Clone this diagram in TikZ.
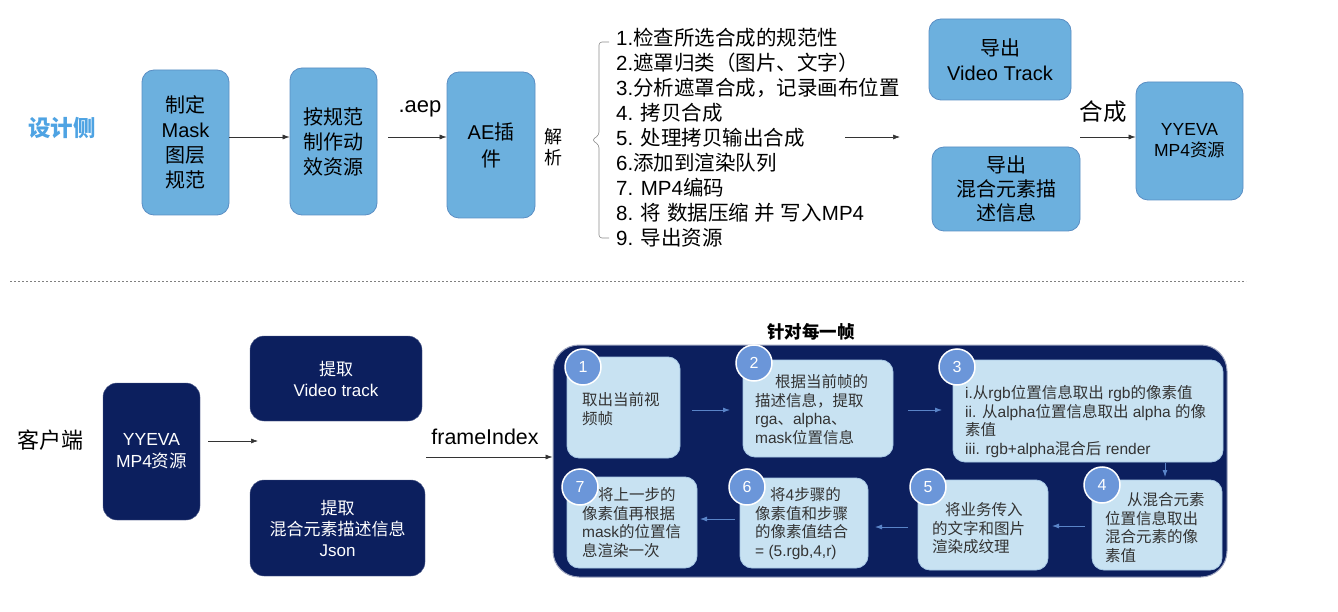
\documentclass[tikz,border=0pt]{standalone}
\usepackage{fontspec}
\setmainfont{Liberation Sans}
\newfontfamily\cjkf{Noto Sans CJK SC}
\XeTeXinterchartokenstate=1
\newXeTeXintercharclass\CJKcls
\newcount\mycjkcnt
\mycjkcnt="3000 \loop\XeTeXcharclass\mycjkcnt=\CJKcls \advance\mycjkcnt by 1 \ifnum\mycjkcnt<"3040 \repeat
\mycjkcnt="4E00 \loop\XeTeXcharclass\mycjkcnt=\CJKcls \advance\mycjkcnt by 1 \ifnum\mycjkcnt<"A000 \repeat
\mycjkcnt="FF00 \loop\XeTeXcharclass\mycjkcnt=\CJKcls \advance\mycjkcnt by 1 \ifnum\mycjkcnt<"FFF0 \repeat
\XeTeXinterchartoks 0 \CJKcls = {\begingroup\cjkf}
\XeTeXinterchartoks 4095 \CJKcls = {\begingroup\cjkf}
\XeTeXinterchartoks \CJKcls 0 = {\endgroup}
\XeTeXinterchartoks \CJKcls 4095 = {\endgroup}
\usetikzlibrary{arrows.meta}
\definecolor{lblue}{HTML}{6CB0DE}
\definecolor{lbord}{HTML}{5A8EC4}
\definecolor{navy}{HTML}{0C1F5E}
\definecolor{sblue}{HTML}{C8E2F2}
\definecolor{sbord}{HTML}{A8C8E4}
\definecolor{cblue}{HTML}{6B96D9}
\definecolor{ablue}{HTML}{5A84C8}
\definecolor{titleblue}{HTML}{4EA3E3}
\definecolor{stxt}{HTML}{333333}
\tikzset{
  topbox/.style={draw=lbord, fill=lblue, rounded corners=12pt, line width=0.8pt, align=center, font=\fontsize{20}{25}\selectfont, text=black, inner sep=0pt},
  navybox/.style={draw=navy!70, fill=navy, rounded corners=14pt, align=center, font=\fontsize{17}{21}\selectfont, text=white, inner sep=0pt},
  stepbox/.style={draw=sbord, fill=sblue, rounded corners=12pt, line width=0.8pt, inner sep=0pt},
  steptext/.style={anchor=north west, align=left, font=\fontsize{15.5}{18.5}\selectfont, text=stxt, inner sep=0pt},
  num/.style={circle, fill=cblue, draw=white, line width=1.5pt, minimum size=36pt, inner sep=0pt, text=white, font=\fontsize{16}{16}\selectfont},
  blk/.style={-{Latex[length=7pt,width=5pt]}, line width=0.6pt, draw=black!80},
  bar/.style={-{Latex[length=7pt,width=5pt]}, line width=0.8pt, draw=ablue, color=ablue},
}
\begin{document}
\begin{tikzpicture}[x=1pt,y=-1pt]
\useasboundingbox[fill=white] (0,0) rectangle (1338,612);

% ---------- top: design side ----------
\node[font=\bfseries\fontsize{22.5}{22.5}\selectfont, text=titleblue] (design) at (62,128) {设计侧};
\node[topbox, minimum width=87pt, minimum height=145pt] (b1) at (185.5,142.5) {制定\\Mask\\图层\\规范};
\node[topbox, minimum width=87pt, minimum height=147pt] (b2) at (333.5,141.5) {按规范\\制作动\\效资源};
\node[topbox, minimum width=88pt, minimum height=146pt, font=\fontsize{20}{27}\selectfont] (b3) at (491,145) {AE插\\件};
\draw[blk] (b1.east |- 0,137) -- (b2.west |- 0,137);
\coordinate (a2s) at (388,137);
\node[font=\fontsize{22}{22}\selectfont] (aep) at (420,109) {.aep};
\draw[blk] (a2s) -- (b3.west |- 0,137);
\node[font=\fontsize{18}{21}\selectfont, align=center] (jx) at (553,147) {解\\析};

% bracket
\coordinate (brt) at (609,42);
\coordinate (brb) at (609,238);
\draw[black!45, line width=0.6pt, rounded corners=3pt] (brt) -- (599,42) -- (599,135) -- (592,140) -- (599,145) -- (599,238) -- (brb);

\node[anchor=north west, align=left, font=\fontsize{20.5}{25}\selectfont, inner sep=0pt] (list) at (616,27.5) {%
1.检查所选合成的规范性\\
2.遮罩归类（图片、文字）\\
3.分析遮罩合成，记录画布位置\\
4. 拷贝合成\\
5. 处理拷贝输出合成\\
6.添加到渲染队列\\
7. MP4编码\\
8. 将 数据压缩 并 写入MP4\\
9. 导出资源};

\coordinate (a3s) at (845,137);
\coordinate (a3e) at (900,137);
\draw[blk] (a3s) -- (a3e);

\node[topbox, minimum width=142pt, minimum height=81pt] (vt) at (1000,59.5) {导出\\Video Track};
\node[topbox, minimum width=148pt, minimum height=84pt, font=\fontsize{20}{24}\selectfont] (mix) at (1006,189) {导出\\混合元素描\\述信息};
\node[font=\fontsize{23.5}{23.5}\selectfont] (hc) at (1103,112) {合成};
\coordinate (a4s) at (1080,137);
\node[topbox, minimum width=107pt, minimum height=118pt, font=\fontsize{17.5}{21}\selectfont] (yy) at (1189.5,141) {YYEVA\\MP4资源};
\draw[blk] (a4s) -- (yy.west |- 0,137);

% dashed separator
\coordinate (dl) at (10,281);
\coordinate (dr) at (1246,281);
\draw[black!50, dash pattern=on 2pt off 2pt, line width=0.8pt] (dl) -- (dr);

% ---------- bottom: client side ----------
\node[font=\fontsize{22}{22}\selectfont] (client) at (50,440) {客户端};
\node[navybox, minimum width=97pt, minimum height=137pt, font=\fontsize{17.5}{22}\selectfont] (cy) at (151.5,451.5) {YYEVA\\MP4资源};
\coordinate (a5s) at (208,441);
\coordinate (a5e) at (258,441);
\draw[blk] (a5s) -- (a5e);
\node[navybox, minimum width=172pt, minimum height=85pt] (ev) at (336,378.5) {提取\\Video track};
\node[navybox, minimum width=175pt, minimum height=96pt] (ej) at (337.5,528) {提取\\混合元素描述信息\\Json};
\node[font=\fontsize{21.4}{21.4}\selectfont] (fi) at (485,437) {frameIndex};
\coordinate (a6s) at (426,457);

% big panel
\node[draw=navy!40!white, fill=navy, rounded corners=26pt, line width=1pt, minimum width=674pt, minimum height=232pt, inner sep=0pt] (panel) at (890,461) {};
\draw[blk] (a6s) -- (panel.west |- 0,457);
\node[font=\bfseries\fontsize{17.5}{17.5}\selectfont] (title) at (811,332) {针对每一帧};

% steps
\node[stepbox, minimum width=113pt, minimum height=101pt] (s1) at (623.5,407.5) {};
\node[stepbox, minimum width=150pt, minimum height=97pt] (s2) at (818,408.5) {};
\node[stepbox, minimum width=270pt, minimum height=102pt] (s3) at (1088,411) {};
\node[stepbox, minimum width=130pt, minimum height=90pt] (s4) at (1157,525) {};
\node[stepbox, minimum width=130pt, minimum height=90pt] (s5) at (983,525) {};
\node[stepbox, minimum width=128pt, minimum height=90pt] (s6) at (804,523) {};
\node[stepbox, minimum width=130pt, minimum height=91pt] (s7) at (632,522.5) {};

\node[steptext] (t1) at (582,392.5) {取出当前视\\频帧};
\node[steptext] (t2) at (755,374.5) {\hspace{20pt}根据当前帧的\\描述信息，提取\\rga、alpha、\\mask位置信息};
\node[steptext] (t3) at (965,385.5) {i.从rgb位置信息取出 rgb的像素值\\ii. 从alpha位置信息取出 alpha 的像\\素值\\iii. rgb+alpha混合后 render};
\node[steptext] (t4) at (1105,492.5) {\hspace{22pt}从混合元素\\位置信息取出\\混合元素的像\\素值};
\node[steptext] (t5) at (932,502.5) {\hspace{13pt}将业务传入\\的文字和图片\\渲染成纹理};
\node[steptext] (t6) at (755,487.5) {\hspace{15pt}将4步骤的\\像素值和步骤\\的像素值结合\\= (5.rgb,4,r)};
\node[steptext] (t7) at (582,487.5) {\hspace{16pt}将上一步的\\像素值再根据\\mask的位置信\\息渲染一次};

\node[num] (n1) at (583,367) {1};
\node[num] (n2) at (754,363) {2};
\node[num] (n3) at (957,367) {3};
\node[num] (n4) at (1102,485) {4};
\node[num] (n5) at (928,487) {5};
\node[num] (n6) at (747,487) {6};
\node[num] (n7) at (580,487) {7};

\coordinate (r1s) at (692,410); \coordinate (r1e) at (730,410);
\coordinate (r2s) at (908,410); \coordinate (r2e) at (942,410);
\coordinate (r3s) at (1165,463); \coordinate (r3e) at (1165,477);
\coordinate (r4s) at (1085,526); \coordinate (r4e) at (1052,526);
\coordinate (r5s) at (908,527); \coordinate (r5e) at (875,527);
\coordinate (r6s) at (735,519); \coordinate (r6e) at (700,519);
\draw[bar] (r1s) -- (r1e);
\draw[bar] (r2s) -- (r2e);
\draw[bar] (r3s) -- (r3e);
\draw[bar] (r4s) -- (r4e);
\draw[bar] (r5s) -- (r5e);
\draw[bar] (r6s) -- (r6e);
\end{tikzpicture}
\end{document}
